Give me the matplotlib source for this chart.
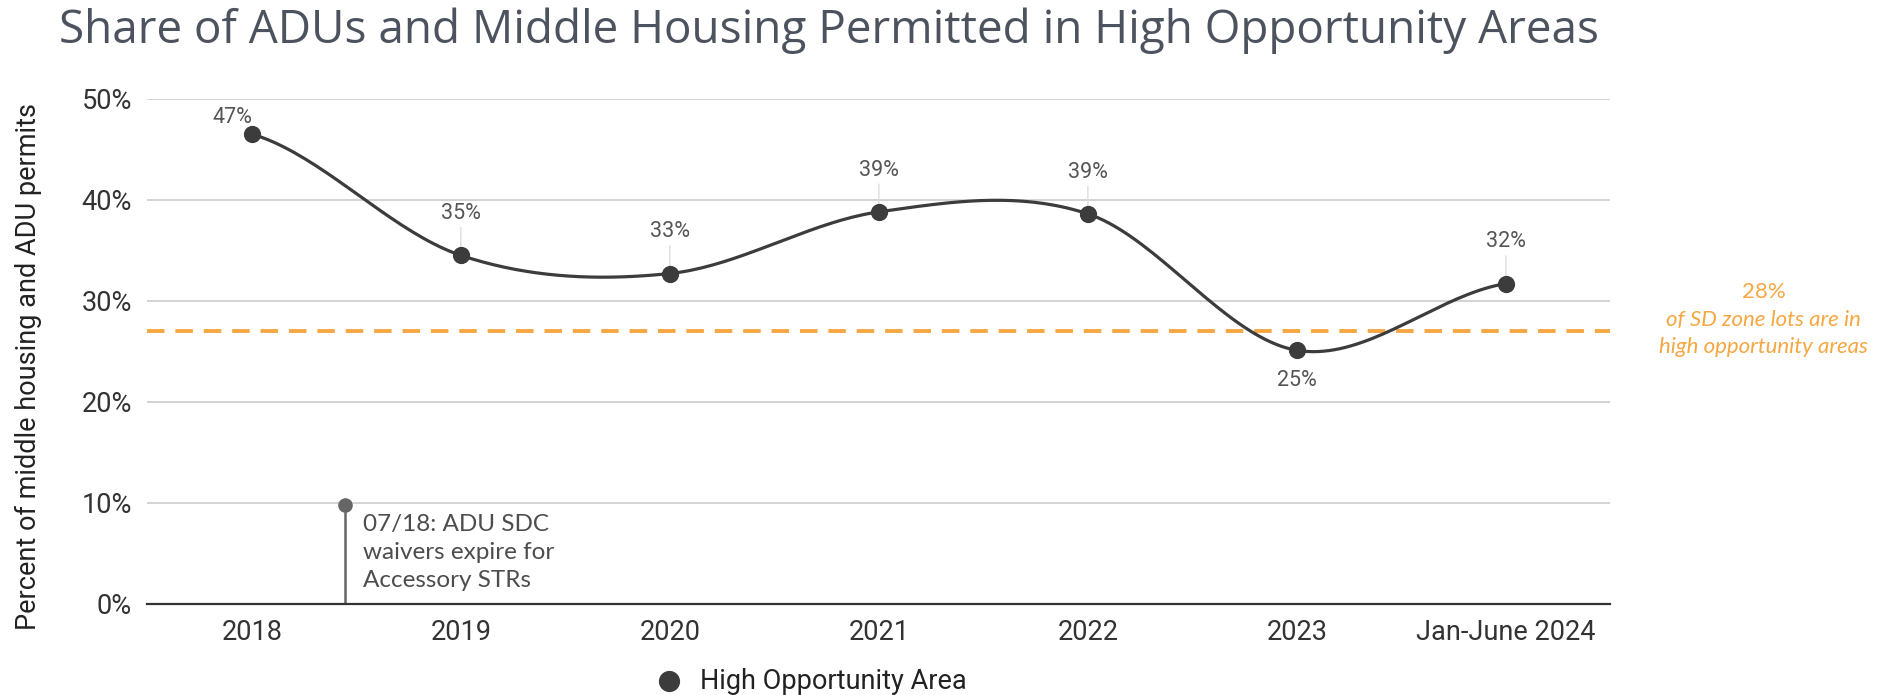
import numpy as np
import matplotlib
matplotlib.use('Agg')
import matplotlib.pyplot as plt

# data
categories = ['2018', '2019', '2020', '2021', '2022', '2023', 'Jan-June 2024']
share = [46.5, 34.5, 32.7, 38.8, 38.6, 25.1, 31.7]
labels = ['47%', '35%', '33%', '39%', '39%', '25%', '32%']
sd_zone_share = 27.0
event_x = 0.445         # July 2018, in category units
event_y = 9.8
event_text = '07/18: ADU SDC\nwaivers expire for\nAccessory STRs'

line_color = '#3c3c3c'
orange = '#F5A742'


def smooth(xs, ys, n=40):
    # catmull-rom style curve through the points (just for drawing the line)
    xs = np.asarray(xs, float)
    ys = np.asarray(ys, float)
    m = np.zeros_like(ys)
    m[1:-1] = (ys[2:] - ys[:-2]) / 2
    m[0] = (ys[1] - ys[0]) * 0.5
    m[-1] = (ys[-1] - ys[-2]) * 0.5
    out_x, out_y = [], []
    for i in range(len(xs) - 1):
        t = np.linspace(0, 1, n)
        h00 = 2 * t**3 - 3 * t**2 + 1
        h10 = t**3 - 2 * t**2 + t
        h01 = -2 * t**3 + 3 * t**2
        h11 = t**3 - t**2
        out_x.extend(xs[i] + t * (xs[i + 1] - xs[i]))
        out_y.extend(h00 * ys[i] + h10 * m[i] + h01 * ys[i + 1] + h11 * m[i + 1])
    return np.array(out_x), np.array(out_y)


plt.rcParams['font.family'] = ['Roboto', 'DejaVu Sans']

fig = plt.figure(figsize=(18.88, 6.95), dpi=100)
ax = fig.add_axes([0.078, 0.131, 0.775, 0.727])

x = np.arange(len(categories))
sx, sy = smooth(x, share)
ax.plot(sx, sy, color=line_color, lw=2.3, zorder=3)
ax.scatter(x, share, s=130, color=line_color, zorder=4, label='High Opportunity Area')

# value labels with faint stems
for i, (v, lab) in enumerate(zip(share, labels)):
    if i == 0:
        off = (-14, 12)
    elif v < sd_zone_share:
        off = (0, -22)
    else:
        off = (0, 30)
    ax.annotate(lab, (i, v), xytext=off, textcoords='offset points',
                ha='center', va='center', fontsize=15.5, color='#555555', zorder=5)
    if i != 0 and off[1] > 0:
        ax.annotate('', (i, v), xytext=(0, off[1] - 10), textcoords='offset points',
                    arrowprops=dict(arrowstyle='-', color='#dddddd', lw=1, shrinkA=0, shrinkB=5),
                    zorder=2)

# reference line
ax.axhline(sd_zone_share, color=orange, lw=2.8, ls=(0, (4.5, 2.8)), zorder=2)
fig.text(0.934, 0.580, '28%', ha='center', va='center', color=orange, fontsize=16,
         family=['Lato', 'DejaVu Sans'])
fig.text(0.934, 0.520, 'of SD zone lots are in\nhigh opportunity areas', ha='center', va='center',
         color=orange, fontsize=16, style='italic', linespacing=1.45, family=['Lato', 'DejaVu Sans'])

# event marker
ax.plot([event_x, event_x], [0, event_y], color='#666666', lw=1.8, zorder=3)
ax.scatter([event_x], [event_y], s=90, color='#666666', zorder=4)
ax.text(0.53, 8.9, event_text, ha='left', va='top', fontsize=17.5,
        color='#4d4d4d', linespacing=1.42, family=['Lato', 'DejaVu Sans'])

ax.set_xlim(-0.5, len(categories) - 0.5)
ax.set_ylim(0, 50)
ax.set_xticks(x)
ax.set_xticklabels(categories, fontsize=19.5, color='#333333')
ax.set_yticks(np.arange(0, 51, 10))
ax.set_yticklabels([f'{t}%' for t in range(0, 51, 10)], fontsize=19.5, color='#333333')
ax.tick_params(length=0, pad=11)
ax.grid(axis='y', color='#cccccc', lw=1.2)
ax.set_axisbelow(True)
for s in ['top', 'right', 'left']:
    ax.spines[s].set_visible(False)
ax.spines['bottom'].set_color('#333333')
ax.spines['bottom'].set_linewidth(1.6)
ax.spines['bottom'].set_zorder(3)

fig.text(0.015, 0.473, 'Percent of middle housing and ADU permits', rotation=90,
         ha='center', va='center', fontsize=19.5, color='#222222')

fig.legend(loc='center', bbox_to_anchor=(0.426, 0.02), frameon=False, fontsize=19.5,
           handletextpad=0.15, markerscale=1.25, labelcolor='#222222')

fig.text(0.031, 0.938, 'Share of ADUs and Middle Housing Permitted in High Opportunity Areas',
         ha='left', va='baseline', fontsize=33, color='#4d535e',
         family=['Open Sans', 'DejaVu Sans'])

fig.savefig('out.png', dpi=100)
